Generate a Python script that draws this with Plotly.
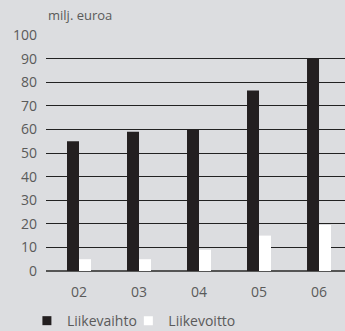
import plotly.graph_objects as go

years = ["02", "03", "04", "05", "06"]
liikevaihto = [55, 59, 60, 76.5, 90]
liikevoitto = [5, 5, 9, 15, 19.5]
y_ticks = [0, 10, 20, 30, 40, 50, 60, 70, 80, 90, 100]
series_names = ["Liikevaihto", "Liikevoitto"]
series_colors = ["#231f20", "#ffffff"]

font = "Open Sans"
grey = "#5a5a5a"

fig = go.Figure()
for i, (name, vals, col) in enumerate(zip(series_names, [liikevaihto, liikevoitto], series_colors)):
    fig.add_bar(x=years, y=vals, name=name, marker_color=col,
                marker_line_width=0, offsetgroup=name, showlegend=False,
                legendgroup=name)
    # legend entry with small square symbol
    fig.add_scatter(x=[None], y=[None], mode="markers", name=name,
                    legendgroup=name, legend="legend" if i == 0 else "legend2",
                    marker=dict(symbol="square", size=9, color=col,
                                line=dict(width=0)))

leg_common = dict(orientation="h", xref="container", xanchor="left",
                  y=0.03, yref="container", yanchor="middle",
                  font=dict(size=14, color=grey), itemwidth=30,
                  bgcolor="rgba(0,0,0,0)")

fig.update_layout(
    width=345, height=331,
    margin=dict(l=46, r=0, t=35, b=60, autoexpand=False),
    paper_bgcolor="#dcdde0", plot_bgcolor="#dcdde0",
    barmode="group", bargap=0.6, bargroupgap=0,
    font=dict(family=font, size=14, color=grey),
    showlegend=True,
    legend=dict(x=0.078, **leg_common),
    legend2=dict(x=0.372, **leg_common),
)
fig.add_annotation(text="milj. euroa", xref="paper", yref="paper", x=0, y=1.0,
                   yshift=20, xanchor="left", yanchor="middle", showarrow=False,
                   font=dict(size=13, color=grey))

fig.update_xaxes(type="category", categoryorder="array", categoryarray=years,
                 range=[-0.55, 4.433], showgrid=False,
                 showline=False, zeroline=False, ticks="outside", ticklen=0,
                 tickcolor="rgba(0,0,0,0)", ticklabelstandoff=8,
                 automargin=False, tickfont=dict(size=14, color=grey))
fig.update_yaxes(range=[0, 100], tickvals=y_ticks, showgrid=True,
                 gridcolor="#222222", gridwidth=1, zeroline=True,
                 zerolinecolor="#555555", zerolinewidth=2, showline=False,
                 ticks="", ticklabelstandoff=8, automargin=False,
                 tickfont=dict(size=14, color=grey))

fig.write_html("out.html", config={"displayModeBar": False},
               post_script="document.body.style.margin='0';document.body.style.overflow='hidden';")
